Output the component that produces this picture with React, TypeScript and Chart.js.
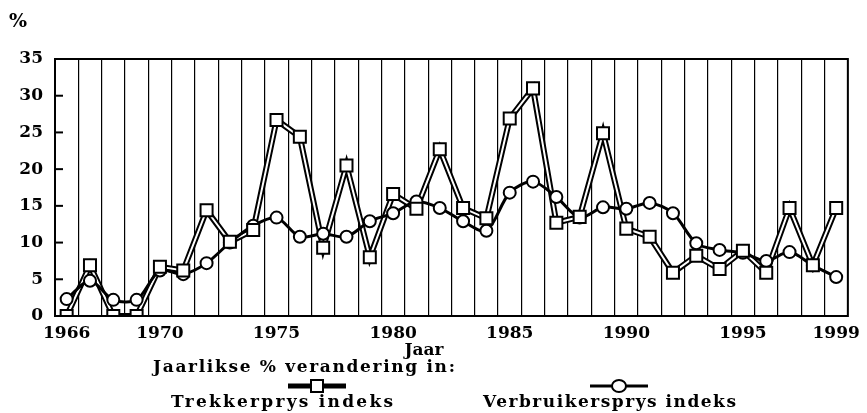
import React, { useEffect, useRef } from "react";
import { Chart, registerables } from "chart.js";

Chart.register(...registerables);

const years = [
  1966, 1967, 1968, 1969, 1970, 1971, 1972, 1973, 1974, 1975, 1976, 1977,
  1978, 1979, 1980, 1981, 1982, 1983, 1984, 1985, 1986, 1987, 1988, 1989,
  1990, 1991, 1992, 1993, 1994, 1995, 1996, 1997, 1998, 1999,
];
const shownYears = [1966, 1970, 1975, 1980, 1985, 1990, 1995, 1999];
const trekkerprys = [
  0, 6.9, 0, 0, 6.7, 6.2, 14.4, 10.1, 11.7, 26.7, 24.4, 9.3, 20.5, 8.0, 16.6,
  14.6, 22.7, 14.7, 13.3, 26.9, 31.0, 12.7, 13.5, 24.9, 11.9, 10.8, 5.9, 8.2,
  6.4, 8.9, 5.9, 14.7, 6.9, 14.7,
];
const verbruikersprys = [
  2.3, 4.8, 2.2, 2.2, 6.2, 5.7, 7.2, 10.0, 12.3, 13.4, 10.8, 11.2, 10.8, 12.9,
  14.0, 15.6, 14.7, 12.9, 11.6, 16.8, 18.3, 16.2, 13.4, 14.8, 14.6, 15.4, 14.0,
  9.9, 9.0, 8.6, 7.5, 8.7, 6.9, 5.3,
];
const yTicks = [0, 5, 10, 15, 20, 25, 30, 35];
const unitLabel = "%";
const xTitle = "Jaar";
const legendTitle = "Jaarlikse % verandering in:";
const seriesNames = ["Trekkerprys indeks", "Verbruikersprys indeks"];

const TEXT_FONT = "bold 17px 'DejaVu Serif'";

function fitText(ctx: CanvasRenderingContext2D, text: string, x: number, y: number, width: number) {
  (ctx as any).letterSpacing = "0px";
  const w = ctx.measureText(text).width;
  const sp = Math.max(0, (width - w) / Math.max(1, text.length - 1));
  (ctx as any).letterSpacing = sp.toFixed(2) + "px";
  ctx.textAlign = "left";
  ctx.fillText(text, x, y);
  (ctx as any).letterSpacing = "0px";
}

const decorPlugin = {
  id: "decor",
  afterDraw(chart: any) {
    const ctx: CanvasRenderingContext2D = chart.ctx;
    const a = chart.chartArea;
    const yScale = chart.scales.y;
    ctx.save();
    ctx.strokeStyle = "#000";
    ctx.lineWidth = 2;
    ctx.strokeRect(a.left, a.top, a.right - a.left, a.bottom - a.top);
    yTicks.forEach((v) => {
      const y = yScale.getPixelForValue(v);
      ctx.beginPath();
      ctx.moveTo(a.left, y);
      ctx.lineTo(a.left + 8, y);
      ctx.stroke();
    });
    ctx.fillStyle = "#000";
    ctx.textBaseline = "middle";
    ctx.font = "bold 19px 'DejaVu Serif'";
    ctx.textAlign = "left";
    ctx.fillText(unitLabel, 9, 22);
    ctx.font = TEXT_FONT;
    ctx.textAlign = "center";
    ctx.fillText(xTitle, 424, 351);
    fitText(ctx, legendTitle, 153, 368, 302);
    fitText(ctx, seriesNames[0], 171, 403, 222);
    fitText(ctx, seriesNames[1], 483, 403, 253);

    const ly = 386;
    ctx.lineCap = "butt";
    ctx.strokeStyle = "#000";
    ctx.lineWidth = 5;
    ctx.beginPath();
    ctx.moveTo(288, ly);
    ctx.lineTo(346, ly);
    ctx.stroke();
    ctx.fillStyle = "#fff";
    ctx.lineWidth = 2;
    ctx.fillRect(311, ly - 6, 12, 12);
    ctx.strokeRect(311, ly - 6, 12, 12);
    ctx.lineWidth = 3;
    ctx.beginPath();
    ctx.moveTo(590, ly);
    ctx.lineTo(648, ly);
    ctx.stroke();
    ctx.beginPath();
    ctx.ellipse(619, ly, 7, 6, 0, 0, Math.PI * 2);
    ctx.fillStyle = "#fff";
    ctx.fill();
    ctx.lineWidth = 2;
    ctx.stroke();
    ctx.restore();
  },
};

export default function App() {
  const ref = useRef<HTMLCanvasElement | null>(null);
  useEffect(() => {
    if (!ref.current) return;
    const chart = new Chart(ref.current, {
      type: "line",
      data: {
        labels: years.map(String),
        datasets: [
          {
            label: seriesNames[0] + " outline",
            data: trekkerprys,
            borderColor: "#000",
            borderWidth: 6,
            pointRadius: 0,
            tension: 0,
            order: 4,
          },
          {
            label: seriesNames[0] + " inner",
            data: trekkerprys,
            borderColor: "#fff",
            borderWidth: 2,
            pointRadius: 0,
            tension: 0,
            order: 3,
          },
          {
            label: seriesNames[1],
            data: verbruikersprys,
            borderColor: "#000",
            borderWidth: 3,
            pointStyle: "circle",
            pointRadius: 6,
            pointBackgroundColor: "#fff",
            pointBorderColor: "#000",
            pointBorderWidth: 2,
            tension: 0.3,
            order: 2,
          },
          {
            label: seriesNames[0],
            data: trekkerprys,
            showLine: false,
            pointStyle: "rect",
            pointRadius: 8.5,
            pointBackgroundColor: "#fff",
            pointBorderColor: "#000",
            pointBorderWidth: 2,
            order: 1,
          },
        ],
      },
      options: {
        animation: false,
        responsive: false,
        layout: { padding: { left: 0, right: 10, top: 59, bottom: 0 } },
        plugins: { legend: { display: false }, tooltip: { enabled: false } },
        scales: {
          x: {
            type: "category",
            offset: true,
            grid: {
              display: true,
              offset: true,
              color: "#000",
              lineWidth: 1.2,
              drawTicks: false,
            },
            border: { display: true, color: "#000", width: 2 },
            ticks: {
              autoSkip: false,
              maxRotation: 0,
              padding: 7,
              color: "#000",
              font: { family: "DejaVu Serif", weight: "bold", size: 17 },
              callback: (_v: any, i: number) =>
                shownYears.includes(years[i]) ? String(years[i]) : "",
            },
            afterFit: (s: any) => {
              s.height = 413 - 316;
            },
          },
          y: {
            min: 0,
            max: 35,
            grid: { display: false, drawTicks: false },
            border: { display: true, color: "#000", width: 2 },
            ticks: {
              stepSize: 5,
              padding: 12,
              color: "#000",
              font: { family: "DejaVu Serif", weight: "bold", size: 17 },
            },
            afterFit: (s: any) => {
              s.width = 55;
            },
          },
        },
      },
      plugins: [decorPlugin],
    });
    return () => chart.destroy();
  }, []);
  return (
    <div style={{ position: "absolute", left: 0, top: 0, width: 867, height: 413 }}>
      <canvas ref={ref} width={867} height={413} style={{ display: "block" }} />
    </div>
  );
}
